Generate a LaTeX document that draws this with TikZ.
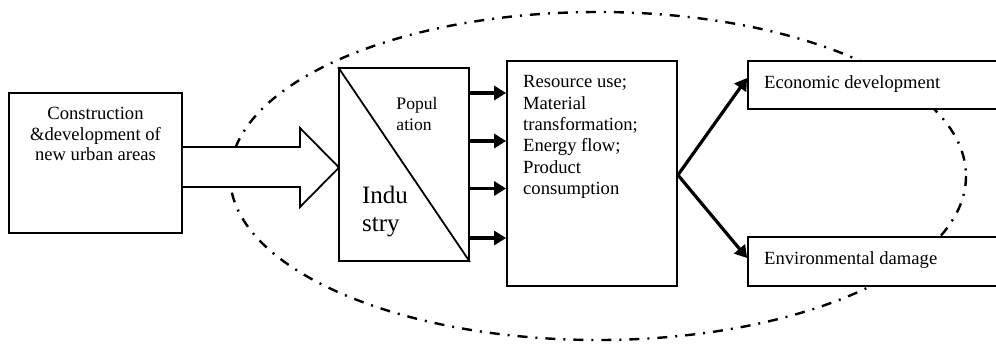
\documentclass[tikz,border=0pt]{standalone}
\usepackage{fontspec}
\setmainfont{Liberation Serif}
\usetikzlibrary{arrows.meta}
\begin{document}
\begin{tikzpicture}[x=1pt,y=-1pt,
  boxstyle/.style={draw=black,fill=white,line width=1.8pt,inner sep=0pt,minimum width=#1},
  txt/.style={font=\fontsize{18.6}{20.5}\selectfont,inner sep=0pt},
  thickarrow/.style={line width=3.2pt,-{Triangle[length=12pt,width=14pt]}},
  ring/.style={line width=2.4pt,dash pattern=on 10pt off 8pt on 2pt off 8pt}
]
\clip (0,0) rectangle (996,349);
\fill[white] (0,0) rectangle (996,349);
% ellipse
\draw[ring] (598,176) ellipse [x radius=368, y radius=164];
% left box
\node[boxstyle=173pt,minimum height=140pt] (cons) at (95.5,163) {};
\node[txt,align=center] (constxt) at (95.5,134) {Construction\\\&development of\\new urban areas};
% block arrow
\draw[line width=1.8pt,fill=white,line join=miter] (cons.east |- 0,147) coordinate (ba1) -- (300,147) -- (300,128) -- (339,167.5) coordinate (batip) -- (300,207) -- (300,187) -- (cons.east |- 0,187) ;
% industry box
\node[boxstyle=130pt,minimum height=193pt] (ind) at (404,164.5) {};
\draw[line width=1.8pt] (ind.north west) -- (ind.south east);
\node[txt,font=\fontsize{17.6}{21.5}\selectfont,align=left] (pop) at (417,114) {Popul\\ation};
\node[txt,font=\fontsize{25}{28}\selectfont,align=left] (indu) at (385,212) {Indu\\stry};
% resource box
\node[boxstyle=170pt,minimum height=225pt] (res) at (592,173.5) {};
\node[txt,font=\fontsize{18.6}{21.3}\selectfont,align=left,anchor=north west] (restxt) at (523,75.5) {Resource use;\\Material\\transformation;\\Energy flow;\\Product\\consumption};
% small arrows
\foreach \yy/\nm in {93/a1,141/a2,188.5/a3,238/a4} {
  \coordinate (\nm) at (0,\yy);
  \draw[thickarrow] (ind.east |- \nm) -- (res.west |- \nm);
}
% right boxes
\node[boxstyle=252pt,minimum height=48pt] (eco) at (874,85) {};
\node[txt,anchor=west] (ecotxt) at (764,84) {Economic development};
\node[boxstyle=252pt,minimum height=49pt] (env) at (874,261.5) {};
\node[txt,anchor=west] (envtxt) at (764,260) {Environmental damage};
% fork
\coordinate (apex) at (res.east |- 0,175);
\coordinate (ecoin) at (0,78);
\coordinate (envin) at (0,258);
\draw[thickarrow] (apex) -- (eco.west |- ecoin);
\draw[thickarrow] (apex) -- (env.west |- envin);
\end{tikzpicture}
\end{document}
